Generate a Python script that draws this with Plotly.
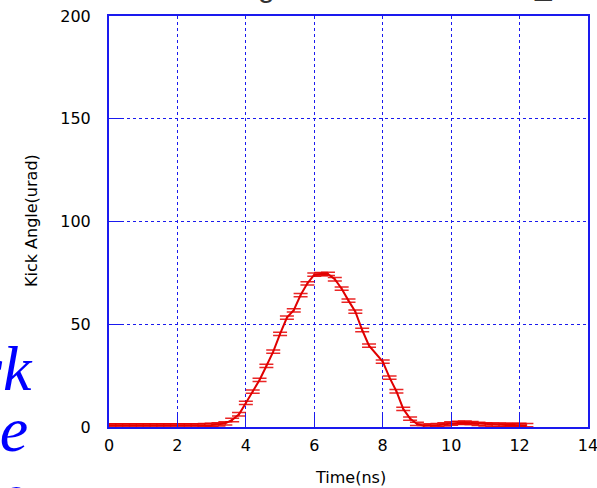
import plotly.graph_objects as go

time_ns = [0.0, 0.2, 0.4, 0.6, 0.8, 1.0, 1.2, 1.4, 1.6, 1.8, 2.0, 2.2, 2.4, 2.6, 2.8,
           3.0, 3.2, 3.4, 3.6, 3.8, 4.0, 4.2, 4.4, 4.6, 4.8, 5.0, 5.2, 5.4, 5.6, 5.8,
           6.0, 6.2, 6.4, 6.6, 6.8, 7.0, 7.2, 7.4, 7.6, 8.0, 8.2, 8.4, 8.6, 8.8, 9.0,
           9.2, 9.4, 9.6, 9.8, 10.0, 10.2, 10.4, 10.6, 10.8, 11.0, 11.2, 11.4, 11.6,
           11.8, 12.0, 12.2]
kick_urad = [0.8, 0.8, 0.8, 0.8, 0.8, 0.8, 0.8, 0.8, 0.8, 0.8, 0.8, 0.8, 0.8, 0.8, 0.9,
             1.0, 1.3, 1.8, 3.4, 6.2, 11.7, 17.2, 22.9, 29.7, 36.7, 45.3, 53.2, 56.8, 64.2, 69.9,
             74.1, 74.4, 74.5, 71.9, 67.3, 61.5, 56.1, 47.2, 39.6, 31.8, 24.0, 17.4, 8.8, 4.1, 1.5,
             0.6, 0.6, 0.9, 1.3, 1.7, 2.0, 2.1, 1.9, 1.5, 1.3, 1.2, 1.1, 1.0,
             1.0, 1.0, 0.9]
kick_err = [0.8] * len(kick_urad)

x_ticks = [0, 2, 4, 6, 8, 10, 12, 14]
y_ticks = [0, 50, 100, 150, 200]

W, H = 597, 488
L, R, T, B = 109, 9, 16, 61
pw, ph = W - L - R, H - T - B

def px_x(p):
    return (p - L) / pw

def px_y(p):
    return (H - B - p) / ph

fig = go.Figure()
fig.add_trace(go.Scatter(
    x=time_ns, y=kick_urad, mode="lines",
    line=dict(color="#e00000", width=2),
    error_y=dict(type="data", array=kick_err, visible=True,
                 color="rgba(230,0,0,0.85)", thickness=1.5, width=7),
    showlegend=False, hoverinfo="skip"))

blue = "#1a1aee"
axis_common = dict(
    showline=True, linecolor=blue, linewidth=2, mirror=True,
    showgrid=True, gridcolor=blue, griddash="dot", gridwidth=1,
    ticks="inside", ticklen=12, tickcolor=blue, tickwidth=1,
    zeroline=False, ticklabeloverflow="allow",
    tickfont=dict(family="DejaVu Sans", size=16, color="black"),
)
fig.update_xaxes(range=[0, 14], tickvals=x_ticks, ticktext=[str(v) for v in x_ticks],
                 ticklabelstandoff=3, **axis_common)
fig.update_yaxes(range=[0, 200], tickvals=y_ticks, ticktext=[str(v) for v in y_ticks],
                 ticklabelstandoff=13, **axis_common)

title_font = dict(family="DejaVu Sans", size=16, color="black")
annotations = [
    dict(text="Kick Angle(urad)", x=px_x(32), y=px_y(221), xref="paper", yref="paper",
         textangle=-90, showarrow=False, xanchor="center", yanchor="middle",
         font=title_font),
    dict(text="Time(ns)", x=px_x(350), y=px_y(477), xref="paper", yref="paper",
         showarrow=False, xanchor="center", yanchor="middle",
         font=title_font),
]
serif = dict(family="Liberation Serif", size=64, color="#0000ff")
annotations += [
    dict(text="<i>Kick</i>", x=px_x(35), y=px_y(368), xref="paper", yref="paper",
         showarrow=False, xanchor="right", yanchor="middle", font=serif),
    dict(text="<i>angle</i>", x=px_x(30), y=px_y(429), xref="paper", yref="paper",
         showarrow=False, xanchor="right", yanchor="middle", font=serif),
    dict(text="<i>time</i>", x=px_x(28), y=px_y(496), xref="paper", yref="paper",
         showarrow=False, xanchor="right", yanchor="middle", font=serif),
]
top_font = dict(family="Liberation Sans", size=30, color="#333333")
annotations += [
    dict(text="g", x=px_x(266), y=px_y(-13), xref="paper", yref="paper",
         showarrow=False, xanchor="center", yanchor="middle", font=top_font),
    dict(text="_", x=px_x(543), y=px_y(-16), xref="paper", yref="paper",
         showarrow=False, xanchor="center", yanchor="middle", font=top_font),
]

fig.update_layout(
    width=W, height=H,
    margin=dict(l=L, r=R, t=T, b=B, autoexpand=False),
    paper_bgcolor="white", plot_bgcolor="white",
    annotations=annotations,
)
fig.write_html("out.html")
